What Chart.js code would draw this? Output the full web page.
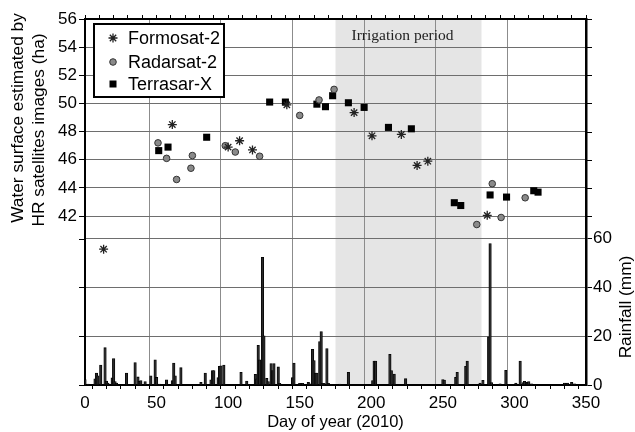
<!DOCTYPE html>
<html>
<head>
<meta charset="utf-8">
<title>Water surface and rainfall (2010)</title>
<script src="https://cdn.jsdelivr.net/npm/chart.js@4/dist/chart.umd.min.js"></script>
<style>
  html, body { margin: 0; padding: 0; background: #fff; }
  #wrap { position: relative; width: 635px; height: 432px; }
</style>
</head>
<body>
<div id="wrap"><canvas id="chart" width="635" height="432"></canvas></div>
<script>
// Water surface estimated from the HR satellite images (day of year, ha)
const FORMOSAT_DAYS = [13, 61, 100, 108, 117, 141, 188, 200.5, 221, 232, 239.5, 281];
const FORMOSAT_HA = [39.65, 48.5, 46.9, 47.35, 46.7, 49.9, 49.35, 47.7, 47.8, 45.6, 45.9, 42.05];

const RADARSAT_DAYS = [51, 57, 64, 74, 75, 98, 105, 122, 150, 163.5, 174, 273.7, 284.5, 290.7, 307.5];
const RADARSAT_HA = [47.2, 46.1, 44.6, 45.4, 46.3, 47.0, 46.55, 46.25, 49.15, 50.25, 51.0, 41.4, 44.3, 41.9, 43.3];

const TERRASAR_DAYS = [51.5, 58, 85, 129, 140, 162, 168, 173, 184, 195, 212, 228, 258, 262.5, 283, 294.5, 313.5, 316.5];
const TERRASAR_HA = [46.65, 46.9, 47.6, 50.1, 50.1, 49.95, 49.77, 50.55, 50.05, 49.72, 48.3, 48.2, 42.95, 42.75, 43.5, 43.35, 43.8, 43.7];

// Daily rainfall (mm)
const RAIN_DAYS = [0, 2, 7, 8, 9, 11, 14, 15, 16, 19, 20, 21, 22, 29, 35, 37, 38, 39, 42, 46, 49, 50, 52,
  57, 61, 62, 63, 67, 81, 84, 88, 89, 90, 93, 94, 95, 97, 109, 113, 119, 120, 121, 122, 124, 125,
  127, 128, 130, 131, 132, 135, 136, 145, 146, 150, 152, 156, 157, 159, 160, 161, 162, 164, 165,
  166, 167, 169, 170, 178, 184, 201, 202, 203, 213, 214, 216, 224, 250, 251, 259, 260, 266, 267,
  276, 278, 282, 283, 284, 290, 294, 301, 304, 306, 307, 309, 310, 312, 335, 337, 340, 342];
const RAIN_MM = [2.2, 0.4, 2.5, 4.9, 3.8, 8.2, 15.3, 1.6, 0.8, 2.9, 10.8, 1.4, 0.8, 4.9, 9.2, 3.3, 1.5, 1.8, 1.4, 3.8, 10.3, 3.1, 0.4,
  2.1, 1.8, 9.0, 3.8, 7.1, 1.1, 4.9, 2.1, 5.9, 5.9, 3.0, 7.7, 7.9, 8.2, 5.2, 1.6, 4.4, 2.5, 16.3, 10.3, 52.3, 20.2,
  2.7, 1.4, 8.8, 5.9, 8.8, 7.4, 0.7, 3.0, 9.0, 0.7, 0.7, 1.1, 0.5, 14.6, 10.0, 4.9, 4.9, 17.8, 21.9,
  0.7, 0.7, 14.9, 0.7, 0.4, 5.2, 1.8, 9.8, 9.8, 12.6, 5.9, 4.5, 2.6, 2.2, 2.0, 3.1, 5.2, 7.7, 9.8,
  0.8, 1.9, 19.7, 58.0, 1.0, 0.5, 6.0, 0.8, 9.8, 1.0, 1.5, 1.1, 1.4, 0.5, 0.8, 0.8, 1.1, 0.5];

// Axes
const DAY_TICKS = [0, 10, 20, 30, 40, 50, 60, 70, 80, 90, 100, 110, 120, 130, 140, 150, 160, 170, 180,
  190, 200, 210, 220, 230, 240, 250, 260, 270, 280, 290, 300, 310, 320, 330, 340, 350];
const HA_TICKS = [42, 44, 46, 48, 50, 52, 54, 56];
const RAIN_TICKS = [0, 20, 40, 60];

// Irrigation period (day of year)
const IRRIGATION_PERIOD = [175, 277];

const FONT = '"Liberation Sans", Arial, sans-serif';
const GRID_COLOR = '#6e6e6e';
const NONE = 'rgba(0,0,0,0)';

const toPoints = (xs, ys) => xs.map((x, i) => ({ x, y: ys[i] }));

// Shaded irrigation period, drawn under the grid
const irrigationShade = {
  id: 'irrigationShade',
  beforeDraw(chart) {
    const { ctx, chartArea, scales } = chart;
    const x0 = scales.x.getPixelForValue(IRRIGATION_PERIOD[0]);
    const x1 = scales.x.getPixelForValue(IRRIGATION_PERIOD[1]);
    ctx.save();
    ctx.fillStyle = '#e5e5e5';
    ctx.fillRect(x0, chartArea.top, x1 - x0, chartArea.bottom - chartArea.top);
    ctx.restore();
  }
};

function drawMarker(ctx, style, x, y) {
  ctx.save();
  if (style === 'star') {
    ctx.strokeStyle = '#222';
    ctx.lineWidth = 1.3;
    const r = 4.5;
    ctx.beginPath();
    for (let k = 0; k < 4; k++) {
      const a = k * Math.PI / 4;
      ctx.moveTo(x - r * Math.cos(a), y - r * Math.sin(a));
      ctx.lineTo(x + r * Math.cos(a), y + r * Math.sin(a));
    }
    ctx.stroke();
  } else if (style === 'circle') {
    ctx.fillStyle = '#8a8a8a';
    ctx.strokeStyle = '#333';
    ctx.lineWidth = 1;
    ctx.beginPath();
    ctx.arc(x, y, 3.3, 0, Math.PI * 2);
    ctx.fill();
    ctx.stroke();
  } else {
    ctx.fillStyle = '#000';
    ctx.fillRect(x - 3.5, y - 3.5, 7, 7);
  }
  ctx.restore();
}

// Legend box, axis titles, label of the irrigation period and mirrored tick marks
const overlay = {
  id: 'overlay',
  afterDraw(chart) {
    const { ctx, chartArea, scales } = chart;
    ctx.save();

    // tick marks of the other axis on each side
    ctx.strokeStyle = '#000';
    ctx.lineWidth = 1;
    ctx.beginPath();
    RAIN_TICKS.forEach(v => {
      const py = Math.round(scales.y2.getPixelForValue(v)) + 0.5;
      ctx.moveTo(chartArea.left - 6, py);
      ctx.lineTo(chartArea.left, py);
    });
    HA_TICKS.forEach(v => {
      const py = Math.round(scales.y.getPixelForValue(v)) + 0.5;
      ctx.moveTo(chartArea.right, py);
      ctx.lineTo(chartArea.right + 6, py);
    });
    ctx.stroke();

    // irrigation label
    const xm = (scales.x.getPixelForValue(IRRIGATION_PERIOD[0]) + scales.x.getPixelForValue(IRRIGATION_PERIOD[1])) / 2;
    ctx.fillStyle = '#222';
    ctx.font = '15.5px "Liberation Serif", "Times New Roman", serif';
    ctx.textAlign = 'center';
    ctx.textBaseline = 'middle';
    ctx.fillText('Irrigation period', xm - 6, 36);

    // legend
    ctx.fillStyle = '#fff';
    ctx.fillRect(94, 24, 130, 73);
    ctx.strokeStyle = '#000';
    ctx.lineWidth = 2;
    ctx.strokeRect(94, 24, 130, 73);
    const entries = [['star', 'Formosat-2', 38], ['circle', 'Radarsat-2', 62], ['rect', 'Terrasar-X', 84]];
    ctx.font = '18px ' + FONT;
    ctx.textAlign = 'left';
    entries.forEach(([style, label, yy]) => {
      drawMarker(ctx, style, 113, yy);
      ctx.fillStyle = '#000';
      ctx.fillText(label, 128, yy + 1);
    });

    // axis titles
    ctx.fillStyle = '#000';
    ctx.textAlign = 'center';
    ctx.font = '16.5px ' + FONT;
    ctx.fillText('Day of year (2010)', (chartArea.left + chartArea.right) / 2, 422);

    ctx.font = '17.3px ' + FONT;
    [['Water surface estimated by', 18, 118], ['HR satellites images (ha)', 39, 130], ['Rainfall (mm)', 626, 307]]
      .forEach(([text, tx, ty]) => {
        ctx.save();
        ctx.translate(tx, ty);
        ctx.rotate(-Math.PI / 2);
        ctx.fillText(text, 0, 0);
        ctx.restore();
      });
    ctx.restore();
  }
};

const ctx = document.getElementById('chart').getContext('2d');
new Chart(ctx, {
  type: 'scatter',
  data: {
    datasets: [
      {
        label: 'Formosat-2',
        data: toPoints(FORMOSAT_DAYS, FORMOSAT_HA),
        yAxisID: 'y',
        pointStyle: 'star',
        pointRadius: 4.5,
        borderColor: '#222',
        backgroundColor: '#222',
        borderWidth: 1.3,
        order: 1
      },
      {
        label: 'Radarsat-2',
        data: toPoints(RADARSAT_DAYS, RADARSAT_HA),
        yAxisID: 'y',
        pointStyle: 'circle',
        pointRadius: 3.3,
        backgroundColor: '#8a8a8a',
        borderColor: '#333',
        borderWidth: 1,
        order: 2
      },
      {
        label: 'Terrasar-X',
        data: toPoints(TERRASAR_DAYS, TERRASAR_HA),
        yAxisID: 'y',
        pointStyle: 'rect',
        pointRadius: 5,
        backgroundColor: '#000',
        borderColor: '#000',
        borderWidth: 0,
        order: 3
      },
      {
        type: 'bar',
        label: 'Rainfall',
        data: toPoints(RAIN_DAYS, RAIN_MM),
        xAxisID: 'x',
        yAxisID: 'y2',
        backgroundColor: '#2a2a2a',
        borderColor: '#000',
        borderWidth: 0.8,
        barThickness: 2.5,
        grouped: false,
        order: 4
      }
    ]
  },
  options: {
    responsive: false,
    animation: false,
    layout: { padding: 0 },
    plugins: {
      legend: { display: false },
      tooltip: { enabled: false }
    },
    scales: {
      x: {
        type: 'linear',
        position: 'bottom',
        min: 0,
        max: 350,
        offset: false,
        afterBuildTicks: s => { s.ticks = DAY_TICKS.map(v => ({ value: v })); },
        afterFit: s => { s.height = 47; },
        ticks: {
          autoSkip: false,
          maxRotation: 0,
          padding: 4,
          color: '#000',
          font: { family: FONT, size: 17 },
          callback: v => (v % 50 === 0 ? v : '')
        },
        grid: {
          color: c => (c.tick && c.tick.value % 50 === 0 && c.tick.value > 0 && c.tick.value < 350 ? '#8c8c8c' : NONE),
          tickColor: '#000',
          tickLength: 4,
          lineWidth: 1
        },
        border: { color: '#000', width: 2 }
      },
      xTop: {
        type: 'linear',
        position: 'top',
        min: 0,
        max: 350,
        offset: false,
        afterBuildTicks: s => { s.ticks = DAY_TICKS.map(v => ({ value: v })); },
        afterFit: s => { s.height = 19; },
        ticks: { autoSkip: false, maxRotation: 0, callback: () => '' },
        grid: { drawOnChartArea: false, tickColor: '#000', tickLength: 4 },
        border: { color: '#000', width: 2 }
      },
      y: {
        position: 'left',
        min: 30,
        max: 56,
        afterBuildTicks: s => { s.ticks = HA_TICKS.map(v => ({ value: v })); },
        afterFit: s => { s.width = 85; },
        ticks: { padding: 2, color: '#000', font: { family: FONT, size: 17 } },
        grid: {
          color: c => (c.tick && c.tick.value < 56 ? GRID_COLOR : NONE),
          tickColor: '#000',
          tickLength: 6
        },
        border: { color: '#000', width: 2 }
      },
      y2: {
        position: 'right',
        min: 0,
        max: 150,
        afterBuildTicks: s => { s.ticks = RAIN_TICKS.map(v => ({ value: v })); },
        afterFit: s => { s.width = 49; },
        ticks: { padding: 1, color: '#000', font: { family: FONT, size: 17 } },
        grid: {
          color: c => (c.tick && c.tick.value > 0 ? GRID_COLOR : NONE),
          tickColor: '#000',
          tickLength: 6
        },
        border: { color: '#000', width: 2.5 }
      }
    }
  },
  plugins: [irrigationShade, overlay]
});
</script>
</body>
</html>
